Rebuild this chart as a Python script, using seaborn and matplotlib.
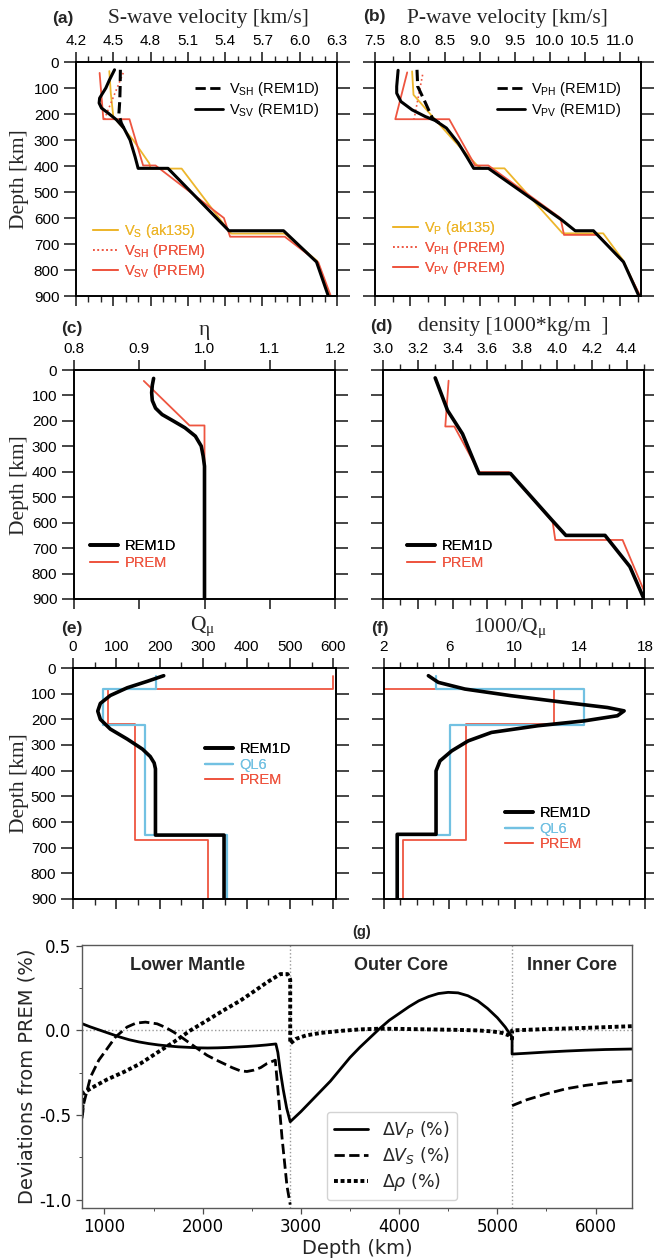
#!/usr/bin/env python3
"""
plot.py - REM1D compared with PREM / ak135 / QL6 in the upper mantle
(panels a-f) plus deviations of REM1D from PREM down to the centre (g).
Writes out.png at 654x1260 px.
"""
import matplotlib
matplotlib.use("Agg")
import matplotlib.pyplot as plt
from matplotlib.lines import Line2D
from matplotlib.ticker import MultipleLocator, FormatStrFormatter
import seaborn as sns

# ----------------------------------------------------------------------------
# (a) S-wave velocity [km/s] vs depth [km]
# ----------------------------------------------------------------------------
VSV_REM_DEPTH = [30, 68, 100, 139, 158, 177, 197, 222, 254, 300, 364, 409, 409, 649, 649, 769, 900]
VSV_REM = [4.51, 4.47, 4.44, 4.39, 4.386, 4.405, 4.46, 4.525, 4.585, 4.635, 4.675, 4.70, 4.94, 5.43, 5.87, 6.135, 6.23]
VSH_REM_DEPTH = [30, 100, 150, 200, 235, 254]
VSH_REM = [4.557, 4.555, 4.552, 4.545, 4.565, 4.585]
VS_AK_DEPTH = [35, 120, 210, 300, 390, 410, 410, 650, 660, 660, 765, 900]
VS_AK = [4.468, 4.48, 4.50, 4.66, 4.79, 4.80, 5.05, 5.43, 5.45, 5.88, 6.14, 6.24]
VSV_PREM_DEPTH = [42, 220, 220, 398, 398, 600, 672, 672, 771, 900]
VSV_PREM = [4.39, 4.42, 4.63, 4.74, 4.84, 5.39, 5.44, 5.88, 6.15, 6.25]
VSH_PREM_DEPTH = [42, 200, 220]
VSH_PREM = [4.58, 4.445, 4.43]

# ----------------------------------------------------------------------------
# (b) P-wave velocity [km/s]
# ----------------------------------------------------------------------------
VPV_REM_DEPTH = [32, 94, 120, 152, 184, 210, 225, 254, 312, 364, 409, 409, 608, 649, 649, 769, 900]
VPV_REM = [7.83, 7.81, 7.81, 7.87, 8.03, 8.22, 8.36, 8.52, 8.69, 8.81, 8.91, 9.12, 10.17, 10.36, 10.62, 11.05, 11.27]
VPH_REM_DEPTH = [30, 94, 145, 216, 235]
VPH_REM = [8.10, 8.11, 8.20, 8.32, 8.42]
VP_AK_DEPTH = [36, 126, 222, 300, 398, 409, 409, 650, 659, 659, 765, 900]
VP_AK = [8.03, 8.05, 8.36, 8.62, 8.96, 9.03, 9.35, 10.15, 10.18, 10.76, 11.05, 11.28]
VPV_PREM_DEPTH = [40, 220, 220, 398, 398, 600, 665, 665, 771, 900]
VPV_PREM = [7.96, 7.79, 8.56, 8.93, 9.12, 10.15, 10.20, 10.69, 11.05, 11.29]
VPH_PREM_DEPTH = [49, 217, 221]
VPH_PREM = [8.18, 8.06, 8.05]

# ----------------------------------------------------------------------------
# (c) eta
# ----------------------------------------------------------------------------
ETA_REM_DEPTH = [33, 60, 89, 120, 150, 175, 200, 227, 260, 299, 339, 378, 900]
ETA_REM = [0.922, 0.920, 0.919, 0.920, 0.925, 0.935, 0.952, 0.970, 0.986, 0.995, 0.998, 1.0, 1.0]
ETA_PREM_DEPTH = [43, 218, 218, 900]
ETA_PREM = [0.907, 0.977, 1.0, 1.0]

# ----------------------------------------------------------------------------
# (d) density [1000 kg/m^3]
# ----------------------------------------------------------------------------
RHO_REM_DEPTH = [31, 159, 251, 407, 407, 590, 650, 650, 773, 900]
RHO_REM = [3.30, 3.371, 3.457, 3.552, 3.733, 3.971, 4.051, 4.276, 4.419, 4.50]
RHO_PREM_DEPTH = [42, 222, 222, 401, 401, 597, 668, 668, 900]
RHO_PREM = [3.377, 3.358, 3.41, 3.552, 3.724, 3.975, 3.99, 4.377, 4.52]

# ----------------------------------------------------------------------------
# (e) Q_mu  and  (f) 1000/Q_mu
# ----------------------------------------------------------------------------
Q_REM_DEPTH = [30, 52, 77, 107, 138, 168, 200, 238, 277, 316, 345, 370, 393, 651, 651, 900]
Q_REM = [209, 171, 125, 86, 63, 57, 63, 86, 125, 160, 178, 187, 190, 190, 348, 348]
Q_QL6_DEPTH = [30, 80, 80, 223, 223, 651, 651, 900]
Q_QL6 = [192, 192, 68, 68, 165, 165, 355, 355]
Q_PREM_DEPTH = [30, 80, 80, 220, 220, 670, 670, 900]
Q_PREM = [600, 600, 80, 80, 143, 143, 312, 312]

IQ_REM_DEPTH = [30, 56, 82, 108, 134, 154, 167, 186, 206, 225, 251, 284, 323, 362, 401, 648, 648, 900]
IQ_REM = [4.72, 5.33, 6.96, 9.80, 13.06, 15.70, 16.72, 16.31, 14.28, 11.43, 8.59, 7.16, 6.15, 5.43, 5.19, 5.19, 2.81, 2.81]
IQ_QL6_DEPTH = [30, 80, 80, 222, 222, 650, 650, 900]
IQ_QL6 = [5.19, 5.19, 14.24, 14.24, 6.04, 6.04, 2.82, 2.82]
IQ_PREM_DEPTH = [30, 80, 80, 220, 220, 670, 670, 900]
IQ_PREM = [1.67, 1.67, 12.45, 12.45, 7.0, 7.0, 3.17, 3.17]

# ----------------------------------------------------------------------------
# (g) deviations of REM1D from PREM (%) vs depth (km)
# ----------------------------------------------------------------------------
DVP_DEPTH = [771, 850, 950, 1050, 1150, 1250, 1350, 1450, 1550, 1650, 1750, 1850, 1950,
             2050, 2150, 2250, 2350, 2450, 2550, 2650, 2745, 2765, 2790, 2820, 2855, 2891,
             3000, 3100, 3200, 3300, 3400, 3500, 3600, 3700, 3800, 3900, 4000, 4100, 4200,
             4300, 4400, 4500, 4600, 4700, 4800, 4900, 5000, 5080, 5150, 5150, 5300, 5500,
             5700, 5900, 6100, 6371]
DVP = [0.04, 0.022, 0.002, -0.018, -0.038, -0.055, -0.068, -0.078, -0.086, -0.092, -0.097,
       -0.100, -0.103, -0.104, -0.103, -0.101, -0.098, -0.095, -0.091, -0.086, -0.080, -0.13,
       -0.24, -0.35, -0.46, -0.54, -0.48, -0.42, -0.36, -0.30, -0.23, -0.16, -0.10, -0.045,
       0.01, 0.06, 0.10, 0.14, 0.175, 0.20, 0.218, 0.225, 0.222, 0.205, 0.175, 0.13, 0.075,
       0.02, -0.04, -0.14, -0.135, -0.128, -0.122, -0.117, -0.113, -0.11]
DVS_LM_DEPTH = [771, 790, 858, 942, 1027, 1112, 1230, 1320, 1417, 1536, 1620, 1705, 1790,
                1875, 1960, 2044, 2130, 2214, 2300, 2383, 2450, 2519, 2590, 2654, 2739, 2763,
                2807, 2858, 2891]
DVS_LM = [-0.52, -0.43, -0.275, -0.176, -0.108, -0.039, 0.02, 0.043, 0.049, 0.039, 0.018,
          -0.01, -0.043, -0.078, -0.113, -0.147, -0.173, -0.196, -0.22, -0.239, -0.243,
          -0.235, -0.22, -0.196, -0.176, -0.33, -0.63, -0.92, -1.03]
DVS_IC_DEPTH = [5150, 5300, 5500, 5700, 5900, 6100, 6371]
DVS_IC = [-0.445, -0.41, -0.375, -0.345, -0.325, -0.31, -0.295]
DRHO_DEPTH = [771, 783, 900, 1027, 1200, 1366, 1540, 1705, 1875, 2044, 2210, 2383, 2520,
              2654, 2790, 2864, 2885, 2891, 2891, 2950, 3050, 3200, 3400, 3600, 3800, 4000,
              4200, 4400, 4600, 4800, 4950, 5050, 5120, 5150, 5150, 5500, 5900, 6371]
DRHO = [-0.5, -0.37, -0.33, -0.29, -0.245, -0.196, -0.13, -0.069, 0.0, 0.059, 0.118, 0.176,
        0.23, 0.284, 0.333, 0.333, 0.31, 0.30, -0.078, -0.05, -0.03, -0.015, -0.003, 0.006,
        0.01, 0.009, 0.007, 0.005, 0.003, 0.0, -0.006, -0.015, -0.03, -0.05, 0.0, 0.008,
        0.015, 0.025]
CMB_DEPTH = 2891
ICB_DEPTH = 5150
REGIONS = ["Lower Mantle", "Outer Core", "Inner Core"]
REGION_X = [1844, 4020, 5763]

# ----------------------------------------------------------------------------
# styling
# ----------------------------------------------------------------------------
PREM_RED = "#EE5540"
AK_GOLD = "#EDB62C"
QL6_BLUE = "#72C1E2"
SERIF = ["Liberation Serif", "DejaVu Serif"]
SANS = ["Liberation Sans", "DejaVu Sans"]

FIG_W, FIG_H = 654, 1260
# axes boxes in pixels: left, top, right, bottom
BOX = {
    "a": (76, 62, 337, 296),
    "b": (375, 62, 641, 296),
    "c": (74, 370, 335, 599),
    "d": (383, 370, 644, 599),
    "e": (73, 668, 336, 899),
    "f": (384, 668, 645, 899),
    "g": (82, 945, 632, 1208),
}


def frac_box(left, top, right, bottom):
    return [left / FIG_W, 1 - bottom / FIG_H, (right - left) / FIG_W, (bottom - top) / FIG_H]


def trace(ax, x, y, **kw):
    """Draw a curve in the given point order (no sorting / aggregation)."""
    sns.lineplot(x=x, y=y, sort=False, estimator=None, ax=ax, **kw)


def ftext(fig, x, y, s, **kw):
    fig.text(x / FIG_W, 1 - y / FIG_H, s, ha="center", va="center", **kw)


def add_legend(ax, key, rows, x_px, y_px, handlelength=1.9, spacing=0.22):
    handles = [Line2D([], [], color=c, ls=ls, lw=lw) for _, c, ls, lw in rows]
    labels = [r[0] for r in rows]
    L, T, R, B = BOX[key]
    leg = ax.legend(handles, labels, loc="upper left",
                    bbox_to_anchor=((x_px - L) / (R - L), (B - y_px) / (B - T)),
                    frameon=False, borderpad=0, borderaxespad=0,
                    handlelength=handlelength, handletextpad=0.45,
                    labelspacing=spacing, prop={"family": SANS, "size": 10.5},
                    labelcolor=[r[1] for r in rows])
    ax.add_artist(leg)


def style_profile(ax, xlim, major, minor, fmt, ylabels, xticks=None):
    ax.set_xlim(*xlim)
    ax.set_ylim(900, 0)
    if xticks is not None:
        ax.set_xticks(xticks)
    else:
        ax.xaxis.set_major_locator(MultipleLocator(major))
    if minor:
        ax.xaxis.set_minor_locator(MultipleLocator(minor))
    ax.xaxis.set_major_formatter(FormatStrFormatter(fmt))
    ax.yaxis.set_major_locator(MultipleLocator(100))
    ax.tick_params(axis="x", which="both", direction="out", top=True, bottom=True,
                   labeltop=True, labelbottom=False, colors="0.15")
    ax.tick_params(axis="x", which="major", length=7, width=1.2, pad=3, labelsize=11,
                   labelcolor="black")
    ax.tick_params(axis="x", which="minor", length=4, width=1.0)
    ax.tick_params(axis="y", which="major", direction="out", left=True, right=True,
                   labelleft=ylabels, length=9, width=1.2, labelsize=11, pad=3,
                   colors="0.15", labelcolor="black")
    for sp in ax.spines.values():
        sp.set_visible(True)
        sp.set_linewidth(1.4)
        sp.set_color("black")
    ax.set_xlabel("")
    ax.set_ylabel("")


def main():
    sns.set_style("ticks")
    plt.rcParams.update({
        "axes.unicode_minus": False,
        "mathtext.fontset": "dejavusans",
    })
    plt.rcParams["font.family"] = SANS

    fig = plt.figure(figsize=(FIG_W / 100, FIG_H / 100), dpi=100)
    ax = {k: fig.add_axes(frac_box(*v)) for k, v in BOX.items()}

    # (a) ---------------------------------------------------------------
    a = ax["a"]
    trace(a, VS_AK, VS_AK_DEPTH, color=AK_GOLD, lw=1.3)
    trace(a, VSH_PREM, VSH_PREM_DEPTH, color=PREM_RED, lw=1.2, ls=":")
    trace(a, VSV_PREM, VSV_PREM_DEPTH, color=PREM_RED, lw=1.3)
    trace(a, VSV_REM, VSV_REM_DEPTH, color="black", lw=2.2)
    trace(a, VSH_REM, VSH_REM_DEPTH, color="black", lw=2.2, ls="--")
    style_profile(a, (4.2, 6.3), 0.3, 0.1, "%.1f", True)
    add_legend(a, "a", [(r"V$_\mathregular{SH}$ (REM1D)", "black", "--", 2.0),
                        (r"V$_\mathregular{SV}$ (REM1D)", "black", "-", 2.0)], 195, 80)
    add_legend(a, "a", [(r"V$_\mathregular{S}$ (ak135)", AK_GOLD, "-", 1.3),
                        (r"V$_\mathregular{SH}$ (PREM)", PREM_RED, ":", 1.2),
                        (r"V$_\mathregular{SV}$ (PREM)", PREM_RED, "-", 1.3)], 93, 222,
               handlelength=1.7, spacing=0.15)

    # (b) ---------------------------------------------------------------
    b = ax["b"]
    trace(b, VP_AK, VP_AK_DEPTH, color=AK_GOLD, lw=1.3)
    trace(b, VPH_PREM, VPH_PREM_DEPTH, color=PREM_RED, lw=1.2, ls=":")
    trace(b, VPV_PREM, VPV_PREM_DEPTH, color=PREM_RED, lw=1.3)
    trace(b, VPV_REM, VPV_REM_DEPTH, color="black", lw=2.2)
    trace(b, VPH_REM, VPH_REM_DEPTH, color="black", lw=2.2, ls="--")
    style_profile(b, (7.5, 11.3), 0.5, 0.25, "%.1f", False)
    add_legend(b, "b", [(r"V$_\mathregular{PH}$ (REM1D)", "black", "--", 2.0),
                        (r"V$_\mathregular{PV}$ (REM1D)", "black", "-", 2.0)], 497, 80)
    add_legend(b, "b", [(r"V$_\mathregular{P}$ (ak135)", AK_GOLD, "-", 1.3),
                        (r"V$_\mathregular{PH}$ (PREM)", PREM_RED, ":", 1.2),
                        (r"V$_\mathregular{PV}$ (PREM)", PREM_RED, "-", 1.3)], 393, 219,
               handlelength=1.7, spacing=0.15)

    # (c) ---------------------------------------------------------------
    c = ax["c"]
    trace(c, ETA_PREM, ETA_PREM_DEPTH, color=PREM_RED, lw=1.3)
    trace(c, ETA_REM, ETA_REM_DEPTH, color="black", lw=2.6)
    style_profile(c, (0.8, 1.2), 0.1, None, "%.1f", True)
    add_legend(c, "c", [("REM1D", "black", "-", 2.6), ("PREM", PREM_RED, "-", 1.3)], 90, 539)

    # (d) ---------------------------------------------------------------
    d = ax["d"]
    trace(d, RHO_PREM, RHO_PREM_DEPTH, color=PREM_RED, lw=1.3)
    trace(d, RHO_REM, RHO_REM_DEPTH, color="black", lw=2.6)
    style_profile(d, (3.0, 4.5), 0.2, 0.1, "%.1f", False)
    add_legend(d, "d", [("REM1D", "black", "-", 2.6), ("PREM", PREM_RED, "-", 1.3)], 407, 539)

    # (e) ---------------------------------------------------------------
    e = ax["e"]
    trace(e, Q_PREM, Q_PREM_DEPTH, color=PREM_RED, lw=1.3)
    trace(e, Q_QL6, Q_QL6_DEPTH, color=QL6_BLUE, lw=1.6)
    trace(e, Q_REM, Q_REM_DEPTH, color="black", lw=2.6)
    style_profile(e, (0, 606), 100, 50, "%d", True)
    add_legend(e, "e", [("REM1D", "black", "-", 2.6), ("QL6", QL6_BLUE, "-", 1.6),
                        ("PREM", PREM_RED, "-", 1.3)], 205, 742, spacing=0.12)

    # (f) ---------------------------------------------------------------
    f = ax["f"]
    trace(f, IQ_PREM, IQ_PREM_DEPTH, color=PREM_RED, lw=1.3)
    trace(f, IQ_QL6, IQ_QL6_DEPTH, color=QL6_BLUE, lw=1.6)
    trace(f, IQ_REM, IQ_REM_DEPTH, color="black", lw=2.6)
    style_profile(f, (2, 18), None, 1, "%d", False, xticks=[2, 6, 10, 14, 18])
    add_legend(f, "f", [("REM1D", "black", "-", 2.6), ("QL6", QL6_BLUE, "-", 1.6),
                        ("PREM", PREM_RED, "-", 1.3)], 505, 806, spacing=0.12)

    # titles, panel letters and depth labels of the upper block
    title_kw = dict(family=SERIF, fontsize=15.5)
    letter_kw = dict(family=SANS, fontsize=12.5, fontweight="bold")
    ftext(fig, 63, 18, "(a)", **letter_kw)
    ftext(fig, 208, 19, "S-wave velocity [km/s]", **title_kw)
    ftext(fig, 374, 17, "(b)", **letter_kw)
    ftext(fig, 507, 18, "P-wave velocity [km/s]", **title_kw)
    ftext(fig, 72, 328, "(c)", **letter_kw)
    ftext(fig, 204, 331, "η", **title_kw)
    ftext(fig, 381, 327, "(d)", **letter_kw)
    ftext(fig, 513, 327, "density [1000*kg/m  ]", **title_kw)
    ftext(fig, 72, 628, "(e)", **letter_kw)
    ftext(fig, 203, 627, r"Q$_\mathregular{μ}$", **title_kw)
    ftext(fig, 380, 628, "(f)", **letter_kw)
    ftext(fig, 510, 629, r"1000/Q$_\mathregular{μ}$", **title_kw)
    for yc in (179, 485, 783):
        ftext(fig, 20, yc, "Depth [km]", rotation=90, **title_kw)

    # (g) ---------------------------------------------------------------
    g = ax["g"]
    g.axvline(CMB_DEPTH, color="0.6", ls=":", lw=1.0)
    g.axvline(ICB_DEPTH, color="0.6", ls=":", lw=1.0)
    g.axhline(0.0, color="0.6", ls=":", lw=1.0)
    dotted = (0, (1.0, 0.7))
    trace(g, DVP_DEPTH, DVP, color="black", lw=2.0)
    trace(g, DVS_LM_DEPTH, DVS_LM, color="black", lw=2.0, ls="--")
    trace(g, DVS_IC_DEPTH, DVS_IC, color="black", lw=2.0, ls="--")
    trace(g, DRHO_DEPTH, DRHO, color="black", lw=2.8, ls=dotted)
    g.set_xlim(771, 6371)
    g.set_ylim(-1.05, 0.505)
    g.xaxis.set_major_locator(MultipleLocator(1000))
    g.xaxis.set_minor_locator(MultipleLocator(500))
    g.yaxis.set_major_locator(MultipleLocator(0.5))
    g.yaxis.set_minor_locator(MultipleLocator(0.25))
    g.tick_params(which="both", direction="out", colors="0.3", labelcolor="black",
                  labelsize=12, labelfontfamily="DejaVu Sans")
    g.tick_params(which="major", length=4, width=0.9)
    g.tick_params(which="minor", length=2.5, width=0.7)
    for sp in g.spines.values():
        sp.set_visible(True)
        sp.set_color("0.35")
        sp.set_linewidth(1.0)
    g.set_xlabel("Depth (km)", family="DejaVu Sans", fontsize=14, labelpad=2)
    g.set_ylabel("Deviations from PREM (%)", family="DejaVu Sans", fontsize=14, labelpad=2)
    for name, xr in zip(REGIONS, REGION_X):
        g.text(xr, 0.385, name, ha="center", va="center", family=SANS,
               fontsize=13, fontweight="bold")
    g_handles = [Line2D([], [], color="black", lw=2.0),
                 Line2D([], [], color="black", lw=2.0, ls="--"),
                 Line2D([], [], color="black", lw=2.8, ls=dotted)]
    g.legend(g_handles, [r"$\Delta V_P$ (%)", r"$\Delta V_S$ (%)", r"$\Delta \rho$ (%)"],
             loc="lower left", bbox_to_anchor=(0.445, 0.03), borderaxespad=0,
             prop={"family": "DejaVu Sans", "size": 12.5}, handlelength=2.0,
             labelspacing=0.3, framealpha=0.85)
    ftext(fig, 362, 932, "(g)", family=SANS, fontsize=10.5, fontweight="bold")

    fig.savefig("out.png", dpi=100)
    plt.close(fig)


if __name__ == "__main__":
    main()
